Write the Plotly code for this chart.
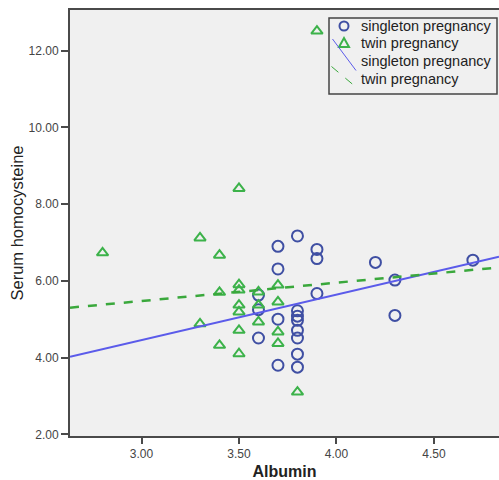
import plotly.graph_objects as go

# ---- data ----
single_albumin = [3.6, 3.6, 3.6, 3.7, 3.7, 3.7, 3.7, 3.8, 3.8, 3.8, 3.8, 3.8, 3.8, 3.8, 3.8,
                  3.9, 3.9, 3.9, 4.2, 4.3, 4.3, 4.7]
single_hcy = [5.63, 5.25, 4.51, 6.90, 6.31, 5.00, 3.80, 7.17, 5.22, 5.08, 4.97, 4.71, 4.51, 4.09, 3.75,
              6.82, 6.58, 5.67, 6.48, 6.02, 5.10, 6.54]
twin_albumin = [2.8, 3.3, 3.3, 3.4, 3.4, 3.4, 3.5, 3.5, 3.5, 3.5, 3.5, 3.5, 3.5, 3.6, 3.6, 3.6,
                3.7, 3.7, 3.7, 3.7, 3.8, 3.9]
twin_hcy = [6.73, 7.12, 4.88, 6.67, 5.70, 4.32, 8.41, 5.90, 5.76, 5.37, 5.19, 4.71, 4.10, 5.71, 5.37, 4.93,
            5.89, 5.45, 4.67, 4.37, 3.10, 12.51]

# linear fit lines (intercept, slope)
single_fit = [0.897, 1.186]
twin_fit = [4.044, 0.477]

x_range = [2.633, 4.834]
y_range = [1.956, 13.06]
legend_labels = ["singleton pregnancy", "twin pregnancy", "singleton pregnancy", "twin pregnancy"]

C_CIRCLE = "#3F4FA3"
C_TRI = "#3CB24A"
C_SLINE = "#5B5BEA"
C_TLINE = "#3AA83C"
FONT = "Liberation Sans, Arial, sans-serif"

fig = go.Figure()
fig.add_trace(go.Scatter(x=single_albumin, y=single_hcy, mode="markers", name=legend_labels[0],
                         marker=dict(symbol="circle-open", size=11, color=C_CIRCLE, line=dict(width=2))))
fig.add_trace(go.Scatter(x=twin_albumin, y=twin_hcy, mode="markers", name=legend_labels[1],
                         marker=dict(symbol="triangle-up-open", size=10, color=C_TRI, line=dict(width=2))))
xs = x_range
fig.add_trace(go.Scatter(x=xs, y=[single_fit[0] + single_fit[1] * v for v in xs], mode="lines",
                         name=legend_labels[2], line=dict(color=C_SLINE, width=2)))
fig.add_trace(go.Scatter(x=xs, y=[twin_fit[0] + twin_fit[1] * v for v in xs], mode="lines",
                         name=legend_labels[3], line=dict(color=C_TLINE, width=2.5, dash="dash")))

# plot area in pixels
L, R, T, B = 70, 499, 10, 436
def px(xp):
    return (xp - L) / (R - L)
def py(yp):
    return (B - yp) / (B - T)

shapes = []
annotations = []
# legend box
shapes.append(dict(type="rect", xref="paper", yref="paper", x0=px(329), x1=px(497), y0=py(94), y1=py(18),
                   line=dict(color="#444444", width=1.5), fillcolor="rgba(0,0,0,0)"))
# legend circle
shapes.append(dict(type="circle", xref="paper", yref="paper", x0=px(339.5), x1=px(348.5), y0=py(30.5), y1=py(21.5),
                   line=dict(color=C_CIRCLE, width=2)))
# legend triangle
tx, ty = 344, 43
shapes.append(dict(type="path", xref="paper", yref="paper",
                   path=f"M {px(tx-5)} {py(ty+4)} L {px(tx+5)} {py(ty+4)} L {px(tx)} {py(ty-5)} Z",
                   line=dict(color=C_TRI, width=2)))
# legend diagonal lines
shapes.append(dict(type="line", xref="paper", yref="paper", x0=px(332.5), y0=py(39), x1=px(356), y1=py(70.5),
                   line=dict(color=C_SLINE, width=1)))
shapes.append(dict(type="line", xref="paper", yref="paper", x0=px(331.5), y0=py(66.5), x1=px(353.5), y1=py(85),
                   line=dict(color=C_TLINE, width=1, dash="dash")))
for i, (lab, yy) in enumerate(zip(legend_labels, [26, 43, 61, 78.5])):
    annotations.append(dict(text=lab, xref="paper", yref="paper", x=px(359), y=py(yy), xanchor="left",
                            yanchor="middle", showarrow=False, font=dict(family=FONT, size=14.5, color="#222222")))

fig.update_layout(
    width=499, height=480,
    margin=dict(l=L, r=499 - R, t=T, b=480 - B, pad=0),
    paper_bgcolor="white", plot_bgcolor="#F0F0F0",
    showlegend=False,
    font=dict(family=FONT, color="#333333"),
    shapes=shapes, annotations=annotations,
)
fig.update_xaxes(range=x_range, tick0=3.0, dtick=0.5, tickformat=".2f", showgrid=False, zeroline=False,
                 showline=True, linecolor="#4A4A4A", linewidth=2, mirror=True,
                 ticks="outside", ticklen=6, tickwidth=1.5, tickcolor="#4A4A4A",
                 tickfont=dict(family=FONT, size=12, color="#444444"),
                 title=dict(text="<b>Albumin</b>", font=dict(family=FONT, size=16, color="#222222"), standoff=6))
fig.update_yaxes(range=y_range, tick0=2.0, dtick=2.0, tickformat=".2f", showgrid=False, zeroline=False,
                 showline=True, linecolor="#4A4A4A", linewidth=2,
                 ticks="outside", ticklen=7, tickwidth=1.5, tickcolor="#4A4A4A",
                 tickfont=dict(family=FONT, size=12, color="#444444"),
                 title=dict(text="Serum homocysteine", font=dict(family=FONT, size=16.5, color="#222222"), standoff=1))

fig.write_html("out.html")
